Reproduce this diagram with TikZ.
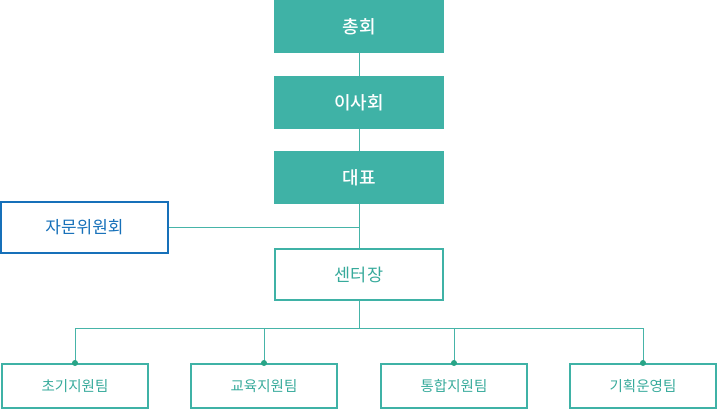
\documentclass[tikz,border=0pt]{standalone}
\usepackage{fontspec}
\newfontfamily\krfont{Noto Sans CJK KR}
\newfontfamily\krmedium{Noto Sans CJK KR Medium}
\definecolor{orgteal}{RGB}{63,178,166}
\definecolor{orgline}{RGB}{70,180,168}
\definecolor{orgdot}{RGB}{40,165,135}
\definecolor{orgblue}{RGB}{22,112,185}
\definecolor{orgtext}{RGB}{55,170,155}

\begin{document}
\begin{tikzpicture}[x=1pt, y=-1pt, font=\krfont]
    \tikzstyle{every node} = [rectangle, inner sep=0pt]
    \tikzstyle{board} = [fill=orgteal, text=white, minimum width=170pt, minimum height=53pt, font=\krmedium\fontsize{18}{21}\selectfont]
    \tikzstyle{head} = [draw=orgteal, line width=2pt, text=orgtext, minimum width=168pt, minimum height=51pt, font=\krfont\fontsize{17.5}{21}\selectfont]
    \tikzstyle{advice} = [draw=orgblue, line width=2pt, text=orgblue, minimum width=167pt, minimum height=51pt, font=\krfont\fontsize{17}{20}\selectfont]
    \tikzstyle{team} = [draw=orgteal, line width=2pt, text=orgtext, minimum width=146pt, minimum height=44pt, font=\krfont\fontsize{14.5}{17}\selectfont]
    \tikzstyle{link} = [draw=orgline, line width=1pt]

    \useasboundingbox (0,0) rectangle (718,409);

    \node[board] (gm) at (359, 26.5) {총회};
    \node[board] (bd) at (359, 102.5) {이사회};
    \node[board] (ceo) at (359, 177.5) {대표};
    \node[advice] (adv) at (84.5, 227.5) {자문위원회};
    \node[head] (dir) at (359, 274.5) {센터장};

    \node[team] (t1) at (75, 386) {초기지원팀};
    \node[team] (t2) at (264, 386) {교육지원팀};
    \node[team] (t3) at (454, 386) {통합지원팀};
    \node[team] (t4) at (643, 386) {기획운영팀};

    \coordinate (bus) at (359, 328);

    \draw [link] (gm) -- (bd);
    \draw [link] (bd) -- (ceo);
    \draw [link] (ceo) -- (dir);
    \draw [link] (adv.east) -- (adv.east -| ceo);
    \draw [link] (dir) -- (bus);
    \draw [link] (bus) -| (t1.north);
    \draw [link] (bus) -| (t2.north);
    \draw [link] (bus) -| (t3.north);
    \draw [link] (bus) -| (t4.north);

    \foreach \t in {t1, t2, t3, t4}
        \fill [orgdot] (\t.north) circle (3pt);
\end{tikzpicture}
\end{document}
